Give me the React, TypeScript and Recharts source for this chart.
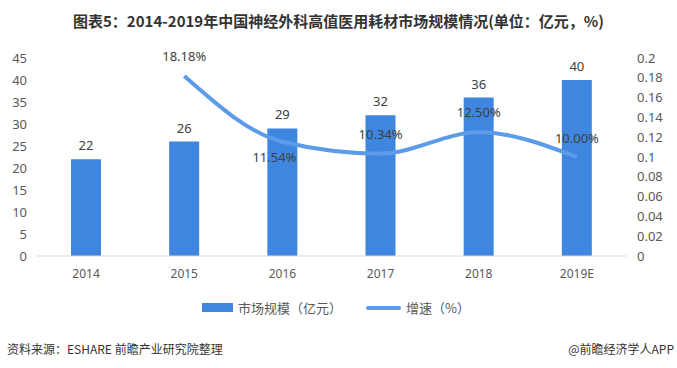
import React from "react";
import {
  ComposedChart,
  Bar,
  Line,
  XAxis,
  YAxis,
  LabelList,
} from "recharts";

const years = ["2014", "2015", "2016", "2017", "2018", "2019E"];
const marketSize = [22, 26, 29, 32, 36, 40];
const growth = [null, 0.1818, 0.1154, 0.1034, 0.125, 0.1];
const growthLabels = ["", "18.18%", "11.54%", "10.34%", "12.50%", "10.00%"];
const leftTicks = [0, 5, 10, 15, 20, 25, 30, 35, 40, 45];
const rightTicks = [0, 0.02, 0.04, 0.06, 0.08, 0.1, 0.12, 0.14, 0.16, 0.18, 0.2];

const BAR = "#3f86e0";
const LINE = "#5b9be8";
const TEXT = "#595959";
const FONT = "'Noto Sans CJK SC', 'Noto Sans', sans-serif";
const NUM_FONT = "'Noto Sans', 'Liberation Sans', sans-serif";

// shift of each growth label relative to its point
const labelDy = [0, -20, 15, -20, -20, -19];
const labelDx = [0, 0, -8, 0, 0, 0];

const data = years.map((y, i) => ({
  year: y,
  size: marketSize[i],
  growth: growth[i],
  growthLabel: growthLabels[i],
}));

const GrowthLabel = (props: any) => {
  const { x, y, index, value } = props;
  if (!value) return null;
  return (
    <text
      x={x + labelDx[index]}
      y={y + labelDy[index]}
      textAnchor="middle"
      dominantBaseline="central"
      fill="#404040"
      fontSize={13}
      fontFamily={NUM_FONT}
    >
      {value}
    </text>
  );
};

export default function App() {
  return (
    <div
      style={{
        position: "absolute",
        left: 0,
        top: 0,
        width: 677,
        height: 368,
        background: "#fff",
        fontFamily: FONT,
      }}
    >
      <div
        style={{
          position: "absolute",
          top: 10,
          width: 677,
          textAlign: "center",
          fontSize: 15,
          fontWeight: "bold",
          color: "#333",
        }}
      >
        图表5：2014-2019年中国神经外科高值医用耗材市场规模情况(单位：亿元，%)
      </div>
      <ComposedChart
        width={677}
        height={368}
        data={data}
        margin={{ top: 58, right: 0, bottom: 82, left: 0 }}
      >
        <XAxis
          dataKey="year"
          xAxisId="x"
          axisLine={{ stroke: "#d9d9d9" }}
          tickLine={false}
          tickSize={0}
          tickMargin={13}
          height={30}
          tick={{ fill: TEXT, fontSize: 12, fontFamily: NUM_FONT }}
        />
        <YAxis
          yAxisId="left"
          orientation="left"
          width={37}
          domain={[0, 45]}
          ticks={leftTicks}
          interval={0}
          axisLine={false}
          tickLine={false}
          tickSize={0}
          tickMargin={10}
          tick={{ fill: TEXT, fontSize: 13, fontFamily: NUM_FONT }}
        />
        <YAxis
          yAxisId="right"
          orientation="right"
          width={51}
          domain={[0, 0.2]}
          ticks={rightTicks}
          interval={0}
          axisLine={false}
          tickLine={false}
          tickSize={0}
          tickMargin={11}
          tick={{ fill: TEXT, fontSize: 13, fontFamily: NUM_FONT, textAnchor: "start" }}
        />
        <Bar
          dataKey="size"
          xAxisId="x"
          yAxisId="left"
          fill={BAR}
          barSize={30}
          isAnimationActive={false}
        >
          <LabelList
            dataKey="size"
            position="top"
            offset={9}
            fill="#404040"
            fontSize={13}
            fontFamily={NUM_FONT}
          />
        </Bar>
        <Line
          dataKey="growth"
          xAxisId="x"
          yAxisId="right"
          type="monotone"
          stroke={LINE}
          strokeWidth={4}
          dot={false}
          activeDot={false}
          connectNulls
          isAnimationActive={false}
        >
          <LabelList dataKey="growthLabel" content={<GrowthLabel />} />
        </Line>
      </ComposedChart>
      <div
        style={{
          position: "absolute",
          left: 202,
          top: 298,
          display: "flex",
          alignItems: "center",
          fontSize: 13,
          color: TEXT,
        }}
      >
        <span
          style={{ width: 31, height: 9, background: BAR, display: "inline-block", marginRight: 5 }}
        />
        <span>市场规模（亿元）</span>
        <span
          style={{
            width: 35,
            height: 4,
            borderRadius: 2,
            background: LINE,
            display: "inline-block",
            marginLeft: 24,
            marginRight: 5,
          }}
        />
        <span>增速（%）</span>
      </div>
      <div
        style={{
          position: "absolute",
          left: 7,
          top: 340,
          fontSize: 12,
          color: "#333",
        }}
      >
        资料来源：ESHARE 前瞻产业研究院整理
      </div>
      <div
        style={{
          position: "absolute",
          right: 3,
          top: 340,
          fontSize: 12,
          color: "#333",
        }}
      >
        @前瞻经济学人APP
      </div>
    </div>
  );
}
